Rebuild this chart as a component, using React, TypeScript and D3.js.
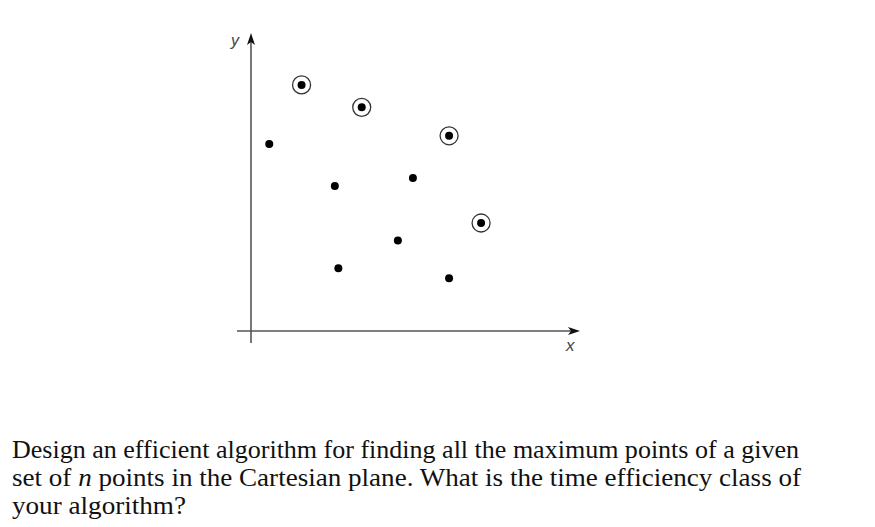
import React from "react";
import * as d3 from "d3";

const xs = [1.58, 3.46, 6.19, 7.19, 0.57, 2.62, 5.06, 4.59, 2.73, 6.19];
const ys = [7.69, 6.99, 6.10, 3.375, 5.84, 4.53, 4.78, 2.83, 1.96, 1.65];
const isMax = [true, true, true, true, false, false, false, false, false, false];
const axisLabels = ["x", "y"];
const textLines = [
  "Design an efficient algorithm for finding all the maximum points of a given",
  "set of |n| points in the Cartesian plane. What is the time efficiency class of",
  "your algorithm?",
];
const lineWidths = [787, 789, 174];

export default function App() {
  const W = 875, H = 527;
  const x = d3.scaleLinear().domain([0, 10]).range([251, 571]);
  const y = d3.scaleLinear().domain([0, 9]).range([331, 43]);
  const x0 = x(0), y0 = y(0);
  const xTip = 580, yTip = 33;
  const axisColor = "#555";
  return (
    <svg width={W} height={H} style={{ position: "absolute", left: 0, top: 0, background: "#fff" }}>
      {/* axes */}
      <line x1={x0} y1={343} x2={x0} y2={yTip + 8} stroke={axisColor} strokeWidth={1.6} />
      <line x1={237} y1={y0} x2={xTip - 8} y2={y0} stroke={axisColor} strokeWidth={1.6} />
      <path d={`M${x0},${yTip} L${x0 - 4},${yTip + 12} L${x0},${yTip + 9} L${x0 + 4},${yTip + 12} Z`} fill="#111" />
      <path d={`M${xTip},${y0} L${xTip - 12},${y0 - 4} L${xTip - 9},${y0} L${xTip - 12},${y0 + 4} Z`} fill="#111" />
      <text x={566} y={351} fontFamily="Liberation Sans, Arial, sans-serif" fontStyle="italic" fontSize={17} fill="#444">{axisLabels[0]}</text>
      <text x={231} y={46} fontFamily="Liberation Sans, Arial, sans-serif" fontStyle="italic" fontSize={16} fill="#444">{axisLabels[1]}</text>
      {/* points */}
      {xs.map((v, i) => (
        <g key={i}>
          {isMax[i] && (
            <circle cx={x(v)} cy={y(ys[i])} r={9} fill="none" stroke="#333" strokeWidth={1.3} />
          )}
          <circle cx={x(v)} cy={y(ys[i])} r={4} fill="#000" />
        </g>
      ))}
      {/* text */}
      {textLines.map((t, i) => {
        const parts = t.split("|");
        return (
          <text
            key={i}
            x={12}
            y={457.5 + i * 28}
            fontFamily="Liberation Serif, Times New Roman, serif"
            fontSize={25}
            fill="#111"
            textLength={lineWidths[i]}
            lengthAdjust="spacingAndGlyphs"
          >
            {parts.map((p, j) => (
              <tspan key={j} fontStyle={j % 2 === 1 ? "italic" : "normal"}>{p}</tspan>
            ))}
          </text>
        );
      })}
    </svg>
  );
}
